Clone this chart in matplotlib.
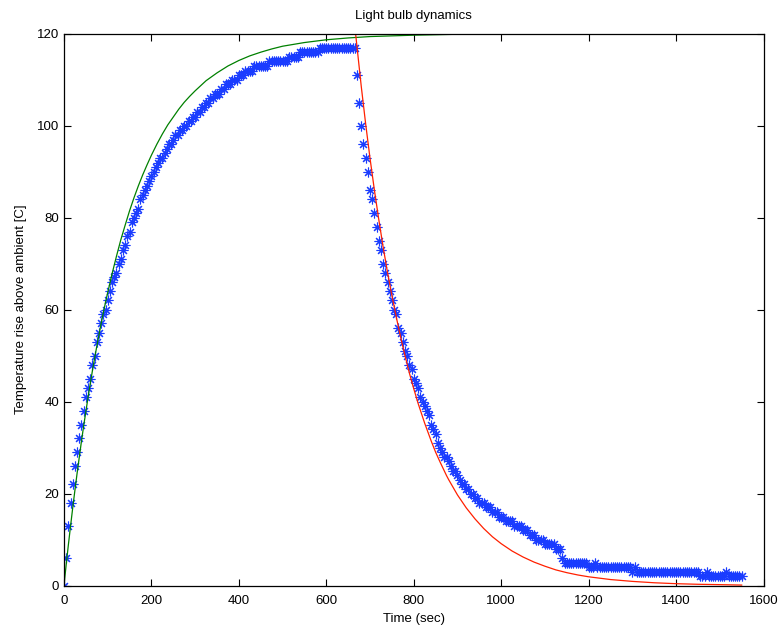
import numpy as np
import matplotlib
matplotlib.use("Agg")
import matplotlib.pyplot as plt

# measured temperature rise, one sample every 5 s starting at t = 0
SAMPLE_DT = 5
heating = [
    0, 6, 13, 18, 22, 26, 29, 32, 35, 38,
    41, 43, 45, 48, 50, 53, 55, 57, 59, 60,
    62, 64, 66, 67, 68, 70, 71, 73, 74, 76,
    77, 79, 80, 81, 82, 84, 85, 86, 87, 88,
    89, 90, 91, 92, 93, 93, 94, 95, 96, 96,
    97, 98, 98, 99, 99, 100, 100, 101, 101, 102,
    102, 103, 103, 104, 104, 105, 105, 106, 106, 107,
    107, 107, 108, 108, 109, 109, 109, 110, 110, 110,
    111, 111, 111, 112, 112, 112, 112, 113, 113, 113,
    113, 113, 113, 113, 114, 114, 114, 114, 114, 114,
    114, 114, 114, 115, 115, 115, 115, 115, 116, 116,
    116, 116, 116, 116, 116, 116, 116, 117, 117, 117,
    117, 117, 117, 117, 117, 117, 117, 117, 117, 117,
    117, 117, 117, 117,
]
cooling = [
    111, 105, 100, 96, 93, 90, 86, 84, 81, 78,
    75, 73, 70, 68, 66, 64, 62, 60, 59, 56,
    55, 53, 51, 50, 48, 47, 45, 44, 43, 41,
    40, 39, 38, 37, 35, 34, 33, 31, 30, 29,
    28, 28, 27, 26, 25, 25, 24, 23, 22, 22,
    21, 21, 20, 20, 19, 19, 18, 18, 18, 17,
    17, 17, 16, 16, 16, 15, 15, 15, 14, 14,
    14, 14, 13, 13, 13, 13, 12, 12, 12, 11,
    11, 11, 10, 10, 10, 10, 9, 9, 9, 9,
    9, 8, 8, 8, 6, 5, 5, 5, 5, 5,
    5, 5, 5, 5, 5, 5, 4, 4, 4, 5,
    4, 4, 4, 4, 4, 4, 4, 4, 4, 4,
    4, 4, 4, 4, 4, 4,
    3, 4, 3, 3, 3, 3, 3, 3, 3, 3,
    3, 3, 3, 3, 3, 3, 3, 3, 3, 3,
    3, 3, 3, 3, 3, 3, 3, 3, 3, 3,
    3,
    2, 2, 2, 3, 2, 2, 2, 2, 2, 2,
    2, 2, 3, 2, 2, 2, 2, 2, 2, 2,
]
temp = heating + cooling
t_meas = np.arange(len(temp)) * SAMPLE_DT

# model curves
heat_t = [0, 5, 10, 15, 20, 25, 30, 35, 40, 45, 50, 55, 60, 65, 70, 75, 80,
          85, 90, 95, 100, 110, 120, 130, 140, 150, 160, 170, 180, 190, 200,
          212.5, 225, 237.5, 250, 262.5, 275, 287.5, 300, 325, 350, 375, 400,
          425, 450, 475, 500, 550, 600, 650, 700, 800, 900, 1000, 1200, 1400,
          1600]
heat_y = [0, 4.5, 8.8, 12.9, 16.9, 20.7, 24.4, 27.9, 31.4, 34.7, 37.8, 40.9,
          43.8, 46.7, 49.4, 52.0, 54.5, 57.0, 59.3, 61.6, 63.7, 67.8, 71.6,
          75.2, 78.4, 81.5, 84.3, 86.9, 89.3, 91.5, 93.6, 96.0, 98.2, 100.2,
          101.9, 103.6, 105.1, 106.4, 107.6, 109.8, 111.5, 113.0, 114.2,
          115.2, 116.0, 116.7, 117.3, 118.1, 118.7, 119.1, 119.4, 119.7,
          119.9, 119.9, 120.0, 120.0, 120.0]

cool_t = [667, 680, 690, 700, 710, 720, 730, 740, 750, 760, 770, 780, 790,
          800, 810, 825, 840, 850, 860, 875, 880, 900, 920, 940, 960, 980,
          1000, 1025, 1050, 1075, 1100, 1125, 1150, 1175, 1200, 1250, 1300,
          1350, 1400, 1450, 1500, 1550]
cool_y = [120, 108.5, 100.4, 92.9, 86.0, 79.6, 73.6, 68.1, 63.1, 58.4, 54.0,
          50.0, 46.2, 42.8, 39.6, 35.3, 31.4, 29.0, 26.9, 23.9, 23.0, 19.7,
          16.9, 14.5, 12.4, 10.6, 9.1, 7.5, 6.2, 5.1, 4.2, 3.4, 2.8, 2.3,
          1.9, 1.3, 0.9, 0.6, 0.4, 0.27, 0.19, 0.1]

plt.rcParams['font.family'] = ['Liberation Sans', 'DejaVu Sans']
plt.rcParams['font.size'] = 9.5

fig = plt.figure(figsize=(7.84, 6.33), dpi=100)
ax = fig.add_axes([0.0816, 0.075, 0.8923, 0.8716])

ax.plot(t_meas, temp, linestyle='none', marker=(8, 2, 0), color='#1a3cff',
        markersize=7, markeredgewidth=0.8)
ax.plot(heat_t, heat_y, color='#008000', lw=0.9)
ax.plot(cool_t, cool_y, color='#ff2000', lw=0.9)

ax.set_xlim(0, 1600)
ax.set_ylim(0, 120)
ax.set_xticks(np.arange(0, 1601, 200))
ax.set_yticks(np.arange(0, 121, 20))
ax.tick_params(direction='in', top=True, right=True, length=5, width=0.8)
ax.tick_params(axis='x', pad=7)
for s in ax.spines.values():
    s.set_linewidth(0.9)

ax.set_title("Light bulb dynamics", fontsize=9.5, pad=11)
ax.set_xlabel("Time (sec)", labelpad=4)
ax.set_ylabel("Temperature rise above ambient [C]", labelpad=7)

fig.savefig("out.png", dpi=100)
